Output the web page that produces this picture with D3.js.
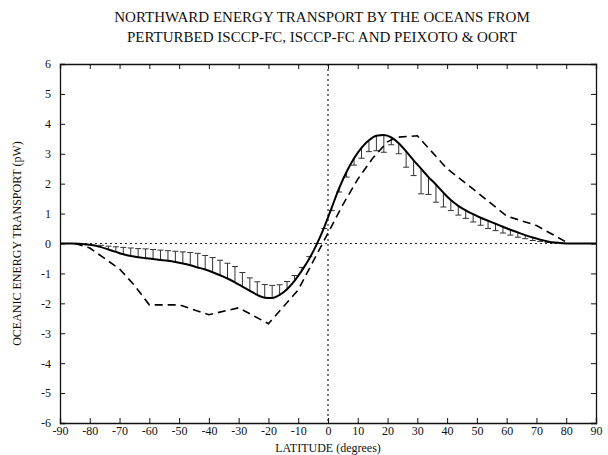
<!DOCTYPE html>
<html lang="en">
<head>
<meta charset="utf-8">
<script src="https://d3js.org/d3.v7.min.js"></script>
<style>
  body { margin: 0; background: #fff; }
  text { font-family: "Liberation Serif", "Times New Roman", serif; fill: #111; }
</style>
</head>
<body>
<script>
// latitude grid of the ISCCP-FC series (deg)
var lat = [-90,
  -88.75,-86.25,-83.75,-81.25,-78.75,-76.25,-73.75,-71.25,
  -68.75,-66.25,-63.75,-61.25,-58.75,-56.25,-53.75,-51.25,
  -48.75,-46.25,-43.75,-41.25,-38.75,-36.25,-33.75,-31.25,
  -28.75,-26.25,-23.75,-21.25,-18.75,-16.25,-13.75,-11.25,
  -8.75,-6.25,-3.75,-1.25,1.25,3.75,6.25,8.75,
  11.25,13.75,16.25,18.75,21.25,23.75,26.25,28.75,
  31.25,33.75,36.25,38.75,41.25,43.75,46.25,48.75,
  51.25,53.75,56.25,58.75,61.25,63.75,66.25,68.75,
  71.25,73.75,76.25,78.75,81.25,83.75,86.25,88.75,
  90];

// ISCCP-FC transport (pW)
var isccp = [0,
  0,0,-0.01,-0.03,-0.06,-0.12,-0.2,-0.28,
  -0.36,-0.42,-0.46,-0.49,-0.52,-0.55,-0.58,-0.62,
  -0.67,-0.73,-0.8,-0.87,-0.96,-1.06,-1.17,-1.3,
  -1.44,-1.58,-1.72,-1.81,-1.82,-1.72,-1.53,-1.25,
  -0.9,-0.5,-0.02,0.55,1.2,1.85,2.4,2.85,
  3.2,3.45,3.6,3.63,3.55,3.35,3.08,2.78,
  2.5,2.22,1.97,1.7,1.45,1.26,1.11,0.98,
  0.86,0.76,0.66,0.56,0.46,0.37,0.28,0.2,
  0.13,0.07,0.03,0.01,0,0,0,0,
  0];

// perturbed ISCCP-FC (end of each bar, pW)
var perturbed = [null,
  null,null,null,null,null,-0.06,-0.09,-0.11,
  -0.13,-0.15,-0.17,-0.18,-0.2,-0.22,-0.24,-0.26,
  -0.28,-0.3,-0.33,-0.4,-0.47,-0.56,-0.66,-0.77,
  -0.97,-1.15,-1.28,-1.37,-1.4,-1.38,-1.27,-1.07,
  -0.8,-0.44,0.0,0.5,1.1,1.72,2.22,2.62,
  2.85,3.07,3.1,3.05,3.3,3.0,2.55,2.27,
  1.66,1.64,1.38,1.22,1.1,0.95,0.84,0.72,
  0.61,0.5,0.43,0.35,0.28,0.21,0.16,0.1,
  0.07,0.04,0.02,0.01,null,null,null,null,
  null];

// Peixoto & Oort
var poLat = [-85,-80,-75,-70,-65,-60,-50,-40,-30,-20,-10,-5,0,5,10,15,20,23,30,40,50,60,70,80];
var poVal = [0,-0.15,-0.5,-0.85,-1.4,-2.05,-2.05,-2.38,-2.15,-2.68,-1.55,-0.6,0.35,1.3,2.15,2.85,3.4,3.55,3.6,2.5,1.72,0.92,0.6,0.05];

var xTicks = [-90,-80,-70,-60,-50,-40,-30,-20,-10,0,10,20,30,40,50,60,70,80,90];
var yTicks = [-6,-5,-4,-3,-2,-1,0,1,2,3,4,5,6];

var W = 608, H = 455;
var L = 60, R = 596, T = 64, B = 423;

var svg = d3.select("body").append("svg")
  .attr("width", W).attr("height", H);

var x = d3.scaleLinear().domain([-90, 90]).range([L, R]);
var y = d3.scaleLinear().domain([-6, 6]).range([B, T]);

// title
svg.append("text").attr("x", 322).attr("y", 22).attr("text-anchor", "middle")
  .style("font-size", "15px").text("NORTHWARD ENERGY TRANSPORT BY THE OCEANS FROM");
svg.append("text").attr("x", 322).attr("y", 42).attr("text-anchor", "middle")
  .style("font-size", "15px").text("PERTURBED ISCCP-FC, ISCCP-FC AND PEIXOTO & OORT");

// reference lines
svg.append("line").attr("x1", L).attr("x2", R).attr("y1", y(0)).attr("y2", y(0))
  .attr("stroke", "#222").attr("stroke-width", 1).attr("stroke-dasharray", "2,3");
svg.append("line").attr("x1", x(0)).attr("x2", x(0)).attr("y1", T).attr("y2", B)
  .attr("stroke", "#222").attr("stroke-width", 1.2).attr("stroke-dasharray", "2,3");

// axes, ticks inward on all sides
var tk = 5;
svg.append("g").attr("transform", "translate(0," + B + ")")
  .call(d3.axisBottom(x).tickValues(xTicks).tickSize(-tk).tickPadding(3).tickFormat(function(d){ return String(d); }));
svg.append("g").attr("transform", "translate(0," + T + ")")
  .call(d3.axisTop(x).tickValues(xTicks).tickSize(-tk).tickFormat(""));
svg.append("g").attr("transform", "translate(" + L + ",0)")
  .call(d3.axisLeft(y).tickValues(yTicks).tickSize(-tk).tickPadding(tk + 4).tickFormat(function(d){ return String(d); }));
svg.append("g").attr("transform", "translate(" + R + ",0)")
  .call(d3.axisRight(y).tickValues(yTicks).tickSize(-tk).tickFormat(""));
svg.selectAll(".domain").attr("stroke", "#111").attr("stroke-width", 1.3);
svg.selectAll(".tick line").attr("stroke", "#111");
svg.selectAll(".tick text").style("font-size", "12px").attr("fill", "#111")
  .style("font-family", "'Liberation Serif', serif");

// axis titles
svg.append("text").attr("x", x(0)).attr("y", 452).attr("text-anchor", "middle")
  .style("font-size", "12px").text("LATITUDE (degrees)");
svg.append("text").attr("transform", "translate(21," + y(0) + ") rotate(-90)")
  .attr("text-anchor", "middle").style("font-size", "12px")
  .text("OCEANIC ENERGY TRANSPORT (pW)");

// error bars (perturbed)
var bars = lat.map(function(d, i){ return {lat: d, v: isccp[i], p: perturbed[i]}; })
  .filter(function(d){ return d.p !== null; });
var eb = svg.append("g").attr("stroke", "#333").attr("stroke-width", 1);
eb.selectAll("line.bar").data(bars).enter().append("line")
  .attr("x1", function(d){ return x(d.lat); }).attr("x2", function(d){ return x(d.lat); })
  .attr("y1", function(d){ return y(d.v); }).attr("y2", function(d){ return y(d.p); });
eb.selectAll("line.cap").data(bars).enter().append("line")
  .attr("x1", function(d){ return x(d.lat) - 3; }).attr("x2", function(d){ return x(d.lat) + 3; })
  .attr("y1", function(d){ return y(d.p); }).attr("y2", function(d){ return y(d.p); });

// ISCCP-FC solid line
var line = d3.line().x(function(d){ return x(d[0]); }).y(function(d){ return y(d[1]); })
  .curve(d3.curveMonotoneX);
svg.append("path").datum(lat.map(function(d, i){ return [d, isccp[i]]; }))
  .attr("d", line).attr("fill", "none").attr("stroke", "#000").attr("stroke-width", 2);

// Peixoto & Oort dashed line
var pline = d3.line().x(function(d){ return x(d[0]); }).y(function(d){ return y(d[1]); });
svg.append("path").datum(poLat.map(function(d, i){ return [d, poVal[i]]; }))
  .attr("d", pline).attr("fill", "none").attr("stroke", "#000")
  .attr("stroke-width", 1.6).attr("stroke-dasharray", "8,5");
</script>
</body>
</html>
